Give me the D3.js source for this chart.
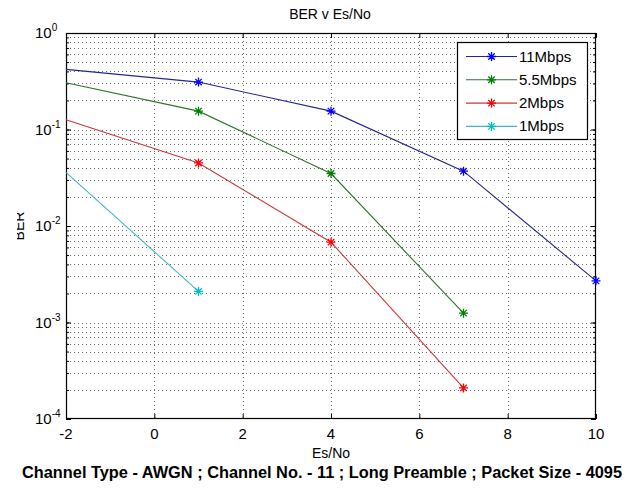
<!DOCTYPE html>
<html><head><meta charset="utf-8">
<script src="https://cdn.jsdelivr.net/npm/d3@7"></script>
<style>body{margin:0;background:#fff}svg{display:block}</style>
</head><body>
<script>
const esno = [-2, 1, 4, 7, 10];
const ber11 = [0.42, 0.31, 0.155, 0.037, 0.0027];
const ber55 = [0.305, 0.155, 0.035, 0.00125];
const ber2 = [0.126, 0.045, 0.0068, 0.00021];
const ber1 = [0.036, 0.0021];
const seriesNames = ["11Mbps", "5.5Mbps", "2Mbps", "1Mbps"];
const xTicks = [-2, 0, 2, 4, 6, 8, 10];
const yExps = [0, -1, -2, -3, -4];

const W = 637, H = 488;
const L = 66, R = 596, T = 33, B = 419;
const svg = d3.select("body").append("svg").attr("width", W).attr("height", H)
  .style("font-family", "Arial, 'Liberation Sans', sans-serif");

const x = d3.scaleLinear().domain([-2, 10]).range([L, R]);
const y = d3.scaleLog().domain([1e-4, 1]).range([B, T]);

const series = [
  {name: seriesNames[0], vals: ber11, line: "#25258f", mark: "#0000ff"},
  {name: seriesNames[1], vals: ber55, line: "#2a742a", mark: "#008000"},
  {name: seriesNames[2], vals: ber2, line: "#c83a3a", mark: "#ff0000"},
  {name: seriesNames[3], vals: ber1, line: "#45b5c2", mark: "#00bfbf"}
];

// grid
const minorY = [];
for (let e = -4; e < 0; e++) for (let m = 1; m <= 9; m++) minorY.push(m * Math.pow(10, e));
minorY.push(1);
const grid = svg.append("g").attr("stroke", "#222").attr("stroke-dasharray", "1,3").attr("stroke-width", 1);
grid.selectAll(".gy").data(minorY.filter(v => v > 1e-4 && v < 1)).join("line")
  .attr("x1", L).attr("x2", R).attr("y1", d => Math.round(y(d)) + 0.5).attr("y2", d => Math.round(y(d)) + 0.5)
  .attr("opacity", 0.65);
grid.selectAll(".gx").data(xTicks.filter(v => v > -2 && v < 10)).join("line")
  .attr("y1", T).attr("y2", B).attr("x1", d => Math.round(x(d)) + 0.5).attr("x2", d => Math.round(x(d)) + 0.5)
  .attr("opacity", 0.65);

// axes with inner ticks
const axB = d3.axisBottom(x).tickValues(xTicks).tickSize(-5).tickFormat("");
const axT = d3.axisTop(x).tickValues(xTicks).tickSize(-5).tickFormat("");
const axLmin = d3.axisLeft(y).tickValues(minorY).tickSize(-3).tickFormat("");
const axRmin = d3.axisRight(y).tickValues(minorY).tickSize(-3).tickFormat("");
const axL = d3.axisLeft(y).tickValues(yExps.map(e => Math.pow(10, e))).tickSize(-5).tickFormat("");
const axR = d3.axisRight(y).tickValues(yExps.map(e => Math.pow(10, e))).tickSize(-5).tickFormat("");
[[axB, `translate(0,${B})`], [axT, `translate(0,${T})`], [axLmin, `translate(${L},0)`],
 [axRmin, `translate(${R},0)`], [axL, `translate(${L},0)`], [axR, `translate(${R},0)`]].forEach(([a, t]) => {
  const g = svg.append("g").attr("transform", t).call(a);
  g.select(".domain").remove();
  g.selectAll("line").attr("stroke", "#000");
});
svg.append("rect").attr("x", L + 0.5).attr("y", T + 0.5).attr("width", R - L - 1).attr("height", B - T - 1)
  .attr("fill", "none").attr("stroke", "#000").attr("stroke-width", 1.2);

// lines
const lineGen = d3.line().x((d, i) => x(esno[i])).y(d => y(d));
function star(g, cx, cy, s, color) {
  const r = s / 2, d = r * 0.72;
  const p = `M${cx - r},${cy}L${cx + r},${cy}M${cx},${cy - r}L${cx},${cy + r}` +
    `M${cx - d},${cy - d}L${cx + d},${cy + d}M${cx - d},${cy + d}L${cx + d},${cy - d}`;
  g.append("path").attr("d", p).attr("stroke", color).attr("stroke-width", 1.3).attr("fill", "none");
}
series.forEach(s => {
  svg.append("path").datum(s.vals).attr("d", lineGen).attr("fill", "none")
    .attr("stroke", s.line).attr("stroke-width", 1.1);
  const g = svg.append("g");
  s.vals.forEach((v, i) => { if (i > 0) star(g, x(esno[i]), y(v), 9, s.mark); });
});

// tick labels
svg.append("g").selectAll("text").data(xTicks).join("text")
  .attr("x", d => x(d)).attr("y", B + 20).attr("text-anchor", "middle")
  .attr("font-size", 15).text(d => d);
const yl = svg.append("g").selectAll("text").data(yExps).join("text")
  .attr("x", 35).attr("y", d => y(Math.pow(10, d)) + 5).attr("font-size", 15);
yl.append("tspan").text("10");
yl.append("tspan").attr("font-size", 10).attr("dy", -7).text(d => d);

// titles
svg.append("text").attr("x", 330).attr("y", 19).attr("text-anchor", "middle").attr("font-size", 14).text("BER v Es/No");
svg.append("text").attr("x", 331).attr("y", 458).attr("text-anchor", "middle").attr("font-size", 14).text("Es/No");
svg.append("defs").append("clipPath").attr("id", "yc").append("rect").attr("x", 17).attr("y", 0).attr("width", 60).attr("height", H);
svg.append("g").attr("clip-path", "url(#yc)").append("text")
  .attr("transform", `translate(24,${(T + B) / 2}) rotate(-90)`).attr("text-anchor", "middle")
  .attr("font-size", 14).text("BER");
svg.append("text").attr("x", 322).attr("y", 478).attr("text-anchor", "middle").attr("font-size", 16)
  .attr("font-weight", "bold").attr("textLength", 600).attr("lengthAdjust", "spacingAndGlyphs")
  .text("Channel Type - AWGN ; Channel No. - 11 ; Long Preamble ; Packet Size - 4095");

// legend
const lg = svg.append("g");
lg.append("rect").attr("x", 457.5).attr("y", 42.5).attr("width", 130).attr("height", 97)
  .attr("fill", "#fff").attr("stroke", "#000").attr("stroke-width", 1.2);
series.forEach((s, i) => {
  const yy = 56.5 + i * 23.3;
  lg.append("line").attr("x1", 466).attr("x2", 517).attr("y1", yy).attr("y2", yy)
    .attr("stroke", s.line).attr("stroke-width", 1.1);
  star(lg, 491.5, yy, 9, s.mark);
  lg.append("text").attr("x", 519).attr("y", yy + 5).attr("font-size", 15).text(s.name);
});
</script>
</body></html>
